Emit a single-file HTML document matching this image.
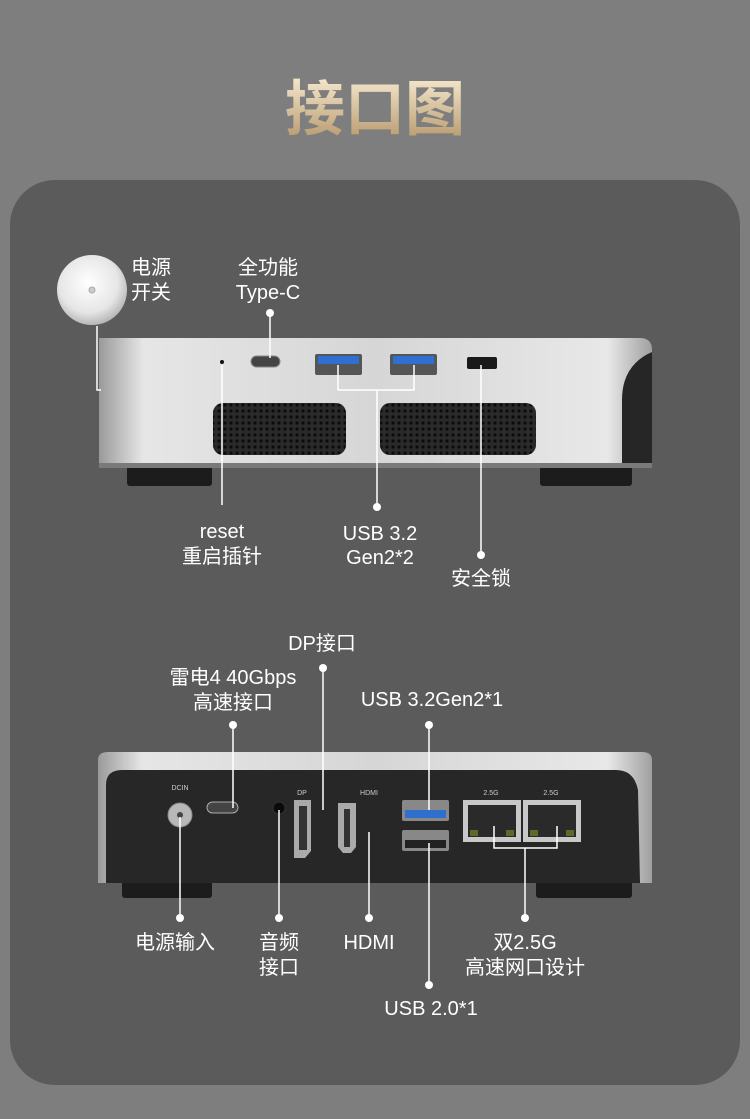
<!DOCTYPE html>
<html><head><meta charset="utf-8"><style>
html,body{margin:0;padding:0;background:#7e7e7e;}
svg{display:block}
text{font-family:"Liberation Sans","Noto Sans CJK SC",sans-serif;fill:#fff;font-size:20px;text-anchor:middle}
text.sm{font-size:7px;fill:#ccc}
</style></head><body>
<svg width="750" height="1119" viewBox="0 0 750 1119" xmlns="http://www.w3.org/2000/svg">
<defs>
<linearGradient id="gold" x1="0" y1="0" x2="0" y2="1"><stop offset="0" stop-color="#f6e9cf"/><stop offset="1" stop-color="#b5976a"/></linearGradient>
<linearGradient id="silver" x1="0" y1="0" x2="1" y2="0"><stop offset="0" stop-color="#9a9a9a"/><stop offset="0.08" stop-color="#e6e6e6"/><stop offset="0.5" stop-color="#d6d6d6"/><stop offset="0.92" stop-color="#e8e8e8"/><stop offset="1" stop-color="#a0a0a0"/></linearGradient>
<radialGradient id="btn" cx="0.45" cy="0.4" r="0.6"><stop offset="0" stop-color="#ffffff"/><stop offset="0.7" stop-color="#e6e6e6"/><stop offset="1" stop-color="#b8b8b8"/></radialGradient>
<pattern id="dots" width="6" height="6" patternUnits="userSpaceOnUse"><rect width="6" height="6" fill="#2a2a2a"/><circle cx="3" cy="3" r="1.6" fill="#0c0c0c"/></pattern>
</defs>
<rect width="750" height="1119" fill="#7e7e7e"/>
<text x="375" y="130" style="font-size:60px;font-weight:bold;fill:url(#gold)">接口图</text>
<rect x="10" y="180" width="730" height="905" rx="45" fill="#5b5b5b"/>

<!-- device 1 -->
<rect x="127" y="466" width="85" height="20" rx="3" fill="#1c1c1c"/>
<rect x="540" y="466" width="92" height="20" rx="3" fill="#1c1c1c"/>
<path d="M99 338 H640 Q652 338 652 350 V465 H99 Z" fill="url(#silver)"/>
<path d="M652 352 Q622 365 622 400 V465 H652 Z" fill="#262626"/>
<rect x="99" y="463" width="553" height="5" fill="#7a7a7a"/>
<rect x="213" y="403" width="133" height="52" rx="10" fill="url(#dots)"/>
<rect x="380" y="403" width="156" height="52" rx="10" fill="url(#dots)"/>
<circle cx="222" cy="362" r="2" fill="#111"/>
<rect x="251" y="356" width="29" height="11" rx="5.5" fill="#444" stroke="#888"/>
<rect x="315" y="354" width="47" height="21" rx="2" fill="#555"/><rect x="318" y="356" width="41" height="8" fill="#2f6fd0"/>
<rect x="390" y="354" width="47" height="21" rx="2" fill="#555"/><rect x="393" y="356" width="41" height="8" fill="#2f6fd0"/>
<rect x="467" y="357" width="30" height="12" rx="2" fill="#1a1a1a"/>

<circle cx="92" cy="290" r="35" fill="url(#btn)"/>
<circle cx="92" cy="290" r="3" fill="#ccc" stroke="#aaa"/>

<g stroke="#fff" stroke-width="1.5" fill="none">
<path d="M97 326 V390 H101"/>
<path d="M270 313 V358"/>
<path d="M222 365 V505"/>
<path d="M338 365 V390 H414 V365 M377 390 V507"/>
<path d="M481 365 V555"/>
</g>
<g fill="#fff"><circle cx="270" cy="313" r="4"/><circle cx="377" cy="507" r="4"/><circle cx="481" cy="555" r="4"/></g>
<text x="131" y="274" style="text-anchor:start">电源</text>
<text x="131" y="299" style="text-anchor:start">开关</text>
<text x="268" y="274">全功能</text>
<text x="268" y="299">Type-C</text>
<text x="222" y="538">reset</text>
<text x="222" y="563">重启插针</text>
<text x="380" y="540">USB 3.2</text>
<text x="380" y="564">Gen2*2</text>
<text x="481" y="585">安全锁</text>

<!-- device 2 -->
<rect x="122" y="880" width="90" height="18" rx="3" fill="#1c1c1c"/>
<rect x="536" y="880" width="96" height="18" rx="3" fill="#1c1c1c"/>
<path d="M98 760 Q98 752 108 752 H642 Q652 752 652 760 V883 H98 Z" fill="url(#silver)"/>
<path d="M106 883 V785 Q106 770 122 770 H616 Q634 770 638 790 L640 883 Z" fill="#272727"/>
<circle cx="180" cy="815" r="12" fill="#b8b8b8" stroke="#888"/><circle cx="180" cy="815" r="3" fill="#444"/>
<rect x="207" y="802" width="31" height="11" rx="5.5" fill="#444" stroke="#aaa"/>
<circle cx="279" cy="808" r="6" fill="#0a0a0a" stroke="#333"/>
<path d="M294 800 H311 V851 L305 858 H294 Z" fill="#aaa"/><rect x="299" y="806" width="8" height="44" fill="#333"/>
<path d="M338 803 H356 V847 L351 853 H343 L338 847 Z" fill="#aaa"/><rect x="344" y="809" width="6" height="38" fill="#333"/>
<rect x="402" y="800" width="47" height="21" rx="2" fill="#888"/><rect x="405" y="810" width="41" height="8" fill="#2f6fd0"/>
<rect x="402" y="830" width="47" height="21" rx="2" fill="#888"/><rect x="405" y="840" width="41" height="8" fill="#222"/>
<rect x="463" y="800" width="58" height="42" fill="#c8c8c8"/><rect x="468" y="805" width="48" height="32" fill="#2a2a2a"/>
<rect x="523" y="800" width="58" height="42" fill="#c8c8c8"/><rect x="528" y="805" width="48" height="32" fill="#2a2a2a"/>
<rect x="470" y="830" width="8" height="6" fill="#5a6a2a"/><rect x="506" y="830" width="8" height="6" fill="#5a6a2a"/>
<rect x="530" y="830" width="8" height="6" fill="#5a6a2a"/><rect x="566" y="830" width="8" height="6" fill="#5a6a2a"/>
<text class="sm" x="180" y="790">DCIN</text><text class="sm" x="302" y="795">DP</text><text class="sm" x="369" y="795">HDMI</text><text class="sm" x="491" y="795">2.5G</text><text class="sm" x="551" y="795">2.5G</text>

<g stroke="#fff" stroke-width="1.5" fill="none">
<path d="M323 668 V810"/>
<path d="M233 725 V808"/>
<path d="M429 725 V810"/>
<path d="M180 817 V918"/>
<path d="M279 810 V918"/>
<path d="M369 832 V918"/>
<path d="M429 843 V985"/>
<path d="M494 826 V848 H557 V826 M525 848 V918"/>
</g>
<g fill="#fff"><circle cx="323" cy="668" r="4"/><circle cx="233" cy="725" r="4"/><circle cx="429" cy="725" r="4"/><circle cx="180" cy="918" r="4"/><circle cx="279" cy="918" r="4"/><circle cx="369" cy="918" r="4"/><circle cx="429" cy="985" r="4"/><circle cx="525" cy="918" r="4"/></g>
<text x="322" y="650">DP接口</text>
<text x="233" y="684">雷电4 40Gbps</text>
<text x="233" y="709">高速接口</text>
<text x="432" y="706">USB 3.2Gen2*1</text>
<text x="175" y="949">电源输入</text>
<text x="279" y="949">音频</text>
<text x="279" y="974">接口</text>
<text x="369" y="949">HDMI</text>
<text x="431" y="1015">USB 2.0*1</text>
<text x="525" y="949">双2.5G</text>
<text x="525" y="974">高速网口设计</text>
</svg>
</body></html>
